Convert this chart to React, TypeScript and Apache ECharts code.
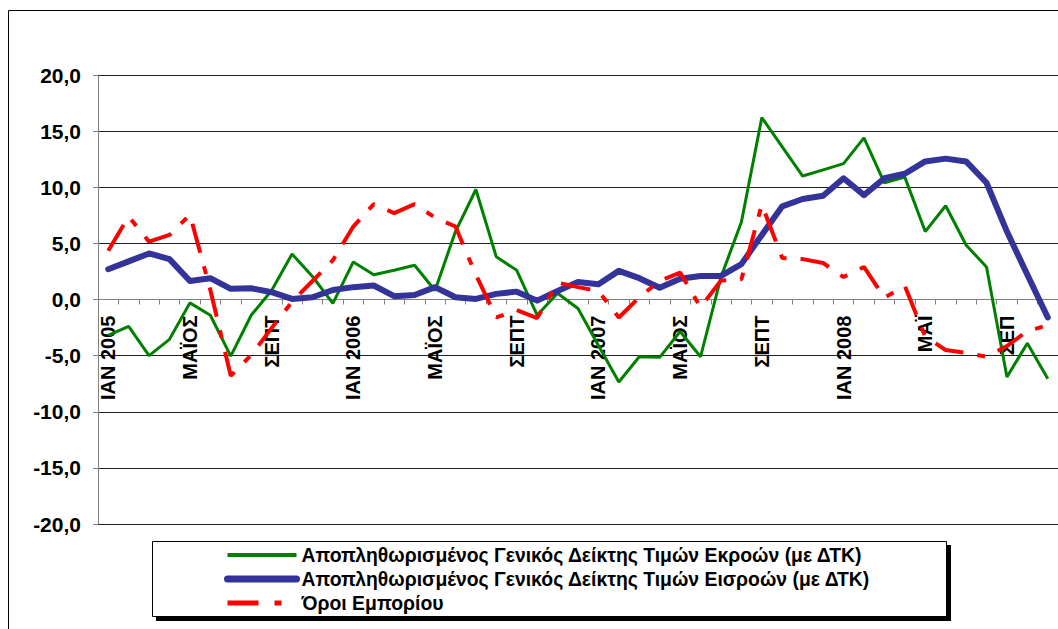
import React, { useEffect, useRef } from "react";
import * as echarts from "echarts";

const tickLabels: string[] = [
  "ΙΑΝ 2005", "", "", "", "ΜΑΪΟΣ", "", "", "", "ΣΕΠΤ", "", "", "",
  "ΙΑΝ 2006", "", "", "", "ΜΑΪΟΣ", "", "", "", "ΣΕΠΤ", "", "", "",
  "ΙΑΝ 2007", "", "", "", "ΜΑΪΟΣ", "", "", "", "ΣΕΠΤ", "", "", "",
  "ΙΑΝ 2008", "", "", "", "ΜΑΪ", "", "", "", "ΣΕΠ", "", "",
];

const seriesNames: string[] = [
  "Αποπληθωρισμένος Γενικός Δείκτης Τιμών Εκροών (με ΔΤΚ)",
  "Αποπληθωρισμένος Γενικός Δείκτης Τιμών Εισροών (με ΔΤΚ)",
  "Όροι Εμπορίου",
];

const outputPrices: number[] = [
  -3.2, -2.4, -5.0, -3.55, -0.3, -1.4, -5.05, -1.4, 0.8, 4.05, 2.05, -0.35,
  3.35, 2.2, 2.6, 3.05, 0.8, 6.05, 9.8, 3.8, 2.6, -1.4, 0.55, -0.8,
  -4.1, -7.35, -5.1, -5.15, -2.85, -5.1, 2.0, 6.9, 16.2, 13.6, 11.0, 11.55,
  12.1, 14.4, 10.4, 10.9, 6.05, 8.35, 4.85, 2.9, -6.9, -3.9, -7.05,
];

const inputPrices: number[] = [
  2.7, 3.4, 4.1, 3.6, 1.65, 1.9, 0.95, 1.0, 0.65, 0.05, 0.2, 0.85,
  1.1, 1.25, 0.3, 0.4, 1.1, 0.2, 0.05, 0.5, 0.7, -0.1, 0.75, 1.55,
  1.35, 2.55, 1.9, 1.05, 1.85, 2.1, 2.1, 3.15, 5.75, 8.3, 8.95, 9.25,
  10.8, 9.3, 10.8, 11.2, 12.3, 12.55, 12.3, 10.4, 6.05, 2.2, -1.6,
];

const termsOfTrade: number[] = [
  4.35, 7.4, 5.15, 5.75, 7.55, 0.85, -6.8, -4.95, -2.55, -0.2, 1.65, 3.5,
  6.5, 8.5, 7.7, 8.5, 7.3, 6.5, 2.2, -1.6, -0.95, -1.65, 1.5, 1.1,
  0.75, -1.6, 0.2, 1.65, 2.4, -0.7, 1.7, 1.8, 8.45, 3.7, 3.6, 3.25,
  2.0, 2.9, 0.15, 1.2, -3.3, -4.5, -4.75, -5.1, -4.15, -2.8, -2.3,
];

const FONT = "'Liberation Sans', Arial, sans-serif";
const GREEN = "#008000";
const BLUE = "#333399";
const RED = "#FF0000";
const DASH = [30, 14, 8, 14];
const CLEAR = "rgba(0,0,0,0)";

const Y_MIN = -20;
const Y_MAX = 20;
const GRID_TOP = 75;
const GRID_HEIGHT = 449;
// distance of the zero line from the bottom of the plot, for the category axis
const ZERO_OFFSET = -(GRID_HEIGHT * (0 - Y_MIN)) / (Y_MAX - Y_MIN);

export default function App() {
  const ref = useRef<HTMLDivElement>(null);

  useEffect(() => {
    if (!ref.current) return;
    const chart = echarts.init(ref.current, undefined, { renderer: "svg" });
    chart.setOption({
      animation: false,
      backgroundColor: "#ffffff",
      grid: { left: 98, top: GRID_TOP, width: 962, height: GRID_HEIGHT, containLabel: false },
      xAxis: {
        type: "category",
        data: tickLabels,
        boundaryGap: true,
        offset: ZERO_OFFSET,
        axisLine: { show: true, onZero: false, lineStyle: { color: "#808080", width: 1 } },
        axisTick: { show: true, interval: 0, length: 5, lineStyle: { color: "#808080" } },
        axisLabel: {
          interval: 0,
          rotate: 90,
          margin: 16,
          fontFamily: FONT,
          fontWeight: "bold",
          fontSize: 20,
          color: "#000",
        },
        splitLine: { show: false },
      },
      yAxis: {
        type: "value",
        min: Y_MIN,
        max: Y_MAX,
        interval: 5,
        axisLine: { show: true, onZero: false, lineStyle: { color: "#808080", width: 1 } },
        axisTick: { show: true, length: 5, lineStyle: { color: "#808080" } },
        axisLabel: {
          margin: 17,
          fontFamily: FONT,
          fontWeight: "bold",
          fontSize: 21,
          color: "#000",
          formatter: (v: number) => v.toFixed(1).replace(".", ","),
        },
        splitLine: { show: true, lineStyle: { color: "#222", width: 1 } },
      },
      legend: {
        orient: "vertical",
        left: 224,
        top: 545,
        padding: 0,
        itemGap: 4,
        itemWidth: 69,
        itemHeight: 14,
        z: 10,
        textStyle: {
          fontFamily: FONT,
          fontWeight: "bold",
          fontSize: 19.4,
          lineHeight: 20,
          color: "#000",
        },
        data: [
          {
            name: seriesNames[0],
            lineStyle: { color: GREEN, width: 4 },
            itemStyle: { color: CLEAR, borderColor: CLEAR, borderWidth: 0 },
          },
          {
            name: seriesNames[1],
            lineStyle: { color: BLUE, width: 7, cap: "round" },
            itemStyle: { color: CLEAR, borderColor: CLEAR, borderWidth: 0 },
          },
          {
            name: seriesNames[2],
            lineStyle: { color: RED, width: 5, type: [31, 16, 7, 40] },
            itemStyle: { color: CLEAR, borderColor: CLEAR, borderWidth: 0 },
          },
        ],
      },
      graphic: [
        {
          type: "rect",
          z: 1,
          silent: true,
          shape: { x: 8.5, y: 10.5, width: 1100, height: 700 },
          style: { fill: "none", stroke: "#000", lineWidth: 1 },
        },
        {
          type: "rect",
          z: 1,
          silent: true,
          shape: { x: 156, y: 545, width: 795, height: 76 },
          style: { fill: "#000" },
        },
        {
          type: "rect",
          z: 2,
          silent: true,
          shape: { x: 152.5, y: 541.5, width: 794, height: 75 },
          style: { fill: "#fff", stroke: "#000", lineWidth: 1 },
        },
      ],
      series: [
        {
          name: seriesNames[0],
          type: "line",
          data: outputPrices,
          symbol: "none",
          z: 3,
          lineStyle: { color: GREEN, width: 3 },
          itemStyle: { color: GREEN },
        },
        {
          name: seriesNames[1],
          type: "line",
          data: inputPrices,
          symbol: "none",
          z: 4,
          lineStyle: { color: BLUE, width: 6, join: "round", cap: "round" },
          itemStyle: { color: BLUE },
        },
        {
          name: seriesNames[2],
          type: "line",
          data: termsOfTrade,
          symbol: "none",
          z: 5,
          lineStyle: { color: RED, width: 4, type: DASH },
          itemStyle: { color: RED },
        },
      ],
    });
    return () => chart.dispose();
  }, []);

  return (
    <div
      ref={ref}
      style={{ position: "fixed", left: 0, top: 0, width: 1058, height: 629 }}
    />
  );
}
